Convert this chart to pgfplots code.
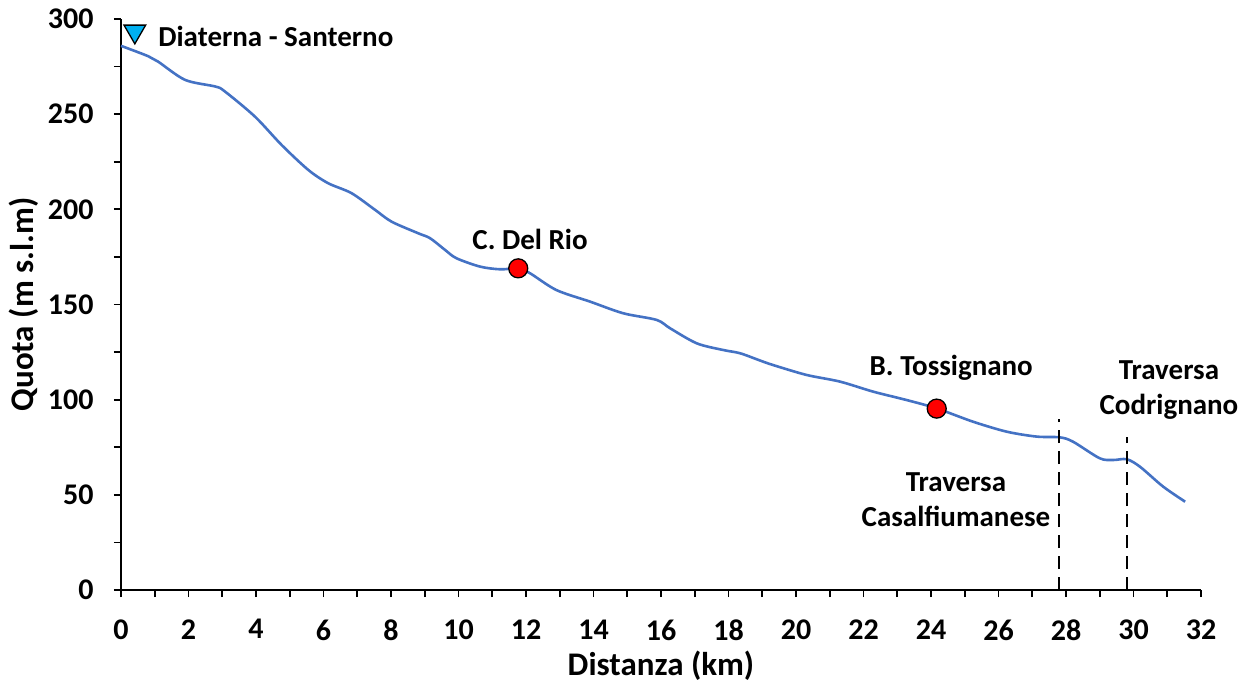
\documentclass[border=0pt]{standalone}
\usepackage{fontspec}
\setmainfont{Carlito}
\usepackage{pgfplots}
\pgfplotsset{compat=1.18}
\definecolor{profilo}{HTML}{4472C4}
\definecolor{sorgente}{HTML}{00B0F0}
\newcommand{\ft}[2]{\bfseries\fontsize{#1bp}{#2bp}\selectfont}
\begin{document}
\begin{tikzpicture}[x=1bp,y=1bp]
\begin{axis}[
  name=ax,
  scale only axis,
  width=1080bp, height=571bp,
  xmin=0, xmax=32, ymin=0, ymax=300,
  axis lines=left,
  axis line style={-, line width=1.8bp, black},
  xtick={0,2,...,32}, minor x tick num=1,
  ytick={0,50,...,300}, minor y tick num=1,
  tick align=outside,
  major tick length=7bp, minor tick length=7bp,
  every tick/.style={black, line width=1.7bp},
  every minor tick/.style={black, line width=1.7bp},
  tick label style={font=\ft{30}{36}},
  xticklabel style={yshift=-19bp},
  yticklabel style={xshift=-17bp},
  /pgf/number format/assume math mode=true,
  xlabel={Distanza (km)}, ylabel={Quota (m s.l.m)},
  label style={font=\ft{33}{40}},
  xlabel shift=4bp, ylabel shift=3bp,
  clip=false,
]
\addplot [profilo, line width=2.6bp, smooth, tension=0.5] coordinates {
(0,285.9) (0.8,280.5) (1.1,277.6) (1.9,268) (2.8,264.5) (3.08,261.9)
(3.97,248.7) (4.76,233.8) (5.55,220.7) (6.14,213.7) (6.83,208.5) (7.53,199.7)
(8.02,193.5) (8.81,187.4) (9.16,184.8) (9.6,178.7) (9.94,174.3) (10.64,169.9)
(11.23,168.5) (11.77,168.9) (12.12,166.4) (12.9,157.6) (13.9,151.5) (14.88,145.4)
(15.87,141.9) (16.27,137.5) (17.06,129.6) (17.84,126.1) (18.34,124.4) (18.93,120.6)
(19.32,118.2) (20.31,113) (21.3,109.5) (22.29,104.2) (23.28,99.8) (24.17,95.4)
(25.25,88.4) (26.24,83.2) (27.13,80.6) (27.82,80.2) (28.21,77.9) (29.0,69.2)
(29.4,68.3) (29.8,68.7) (30.19,64.8) (30.88,54.3) (31.53,46.4)
};
\addplot [black, line width=1.8bp, dash pattern=on 13bp off 8bp] coordinates {(27.8,0) (27.8,90)};
\addplot [black, line width=1.8bp, dash pattern=on 13bp off 8bp] coordinates {(29.8,0) (29.8,80.6)};
\addplot [only marks, mark=*, mark size=9.5bp, mark options={fill=red, draw=black, line width=1.3bp}]
  coordinates {(11.77,169.0) (24.17,95.3)};
\addplot [only marks, mark=triangle*, mark size=12.5bp, mark options={rotate=180, fill=sorgente, draw=black, line width=1.3bp}]
  coordinates {(0.41,293.5)};
\node [anchor=west, font=\ft{29}{35}, inner sep=0pt] at (axis cs:1.1,291) {Diaterna - Santerno};
\node [font=\ft{29}{35}, inner sep=0pt] at (axis cs:12.12,184) {C. Del Rio};
\node [font=\ft{29}{35}, inner sep=0pt] at (axis cs:24.6,117) {B. Tossignano};
\node [font=\ft{29}{35}, inner sep=0pt, align=center] at (axis cs:24.74,47.3) {Traversa\\Casalfiumanese};
\node [font=\ft{29}{35}, inner sep=0pt, align=center] at (axis cs:31.05,105) {Traversa\\Codrignano};
\end{axis}
\path (ax.south west) ++(-121bp,-106bp) rectangle ++(1244bp,696bp);
\end{tikzpicture}
\end{document}
